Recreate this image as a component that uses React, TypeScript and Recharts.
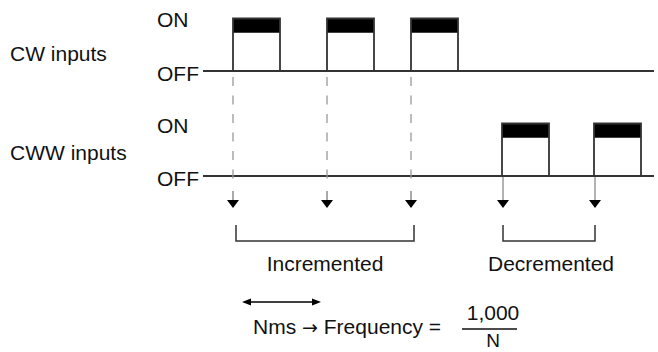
import React from "react";
import {
  ComposedChart,
  XAxis,
  YAxis,
  Line,
  ReferenceArea,
  ReferenceLine,
  ReferenceDot,
} from "recharts";

// time in ms along the trace, levels: CWW OFF=0 / ON=1, CW OFF=2 / ON=3
const cwPulses = [
  [30, 77],
  [124, 171],
  [208, 255],
];
const cwwPulses = [
  [299, 346],
  [391, 438],
];
const traceEnd = 451;
const cwBase = 2;
const cwwBase = 0;
const levelLabels = ["OFF", "ON"];
const channelLabels = ["CW inputs", "CWW inputs"];
const countLabels = ["Incremented", "Decremented"];
const nmsSpan = [39, 118];
const formula = ["Nms", "\u2192", "Frequency =", "1,000", "N"];

const FONT = "'Liberation Sans', Arial, Helvetica, sans-serif";
const INK = "#333";
// pixel row -> level units (52.5 px per level, CWW OFF on row 176)
const row = (py: number) => (176 - py) / 52.5;

function trace(pulses: number[][], base: number) {
  const pts = [{ t: 0, v: base }];
  pulses.forEach(([a, b]) => {
    pts.push({ t: a, v: base }, { t: a, v: base + 1 }, { t: b, v: base + 1 }, { t: b, v: base });
  });
  pts.push({ t: traceEnd, v: base });
  return pts;
}
const offLine = (base: number) => [
  { t: 0, v: base },
  { t: traceEnd, v: base },
];

const txt =
  (text: string, anchor: "start" | "middle" | "end" = "start", size = 21) =>
  (p: any) =>
    (
      <text x={p.cx} y={p.cy} textAnchor={anchor} fontSize={size} fill="#111" fontFamily={FONT}>
        {text}
      </text>
    );

const formulaText = (p: any) => (
  <text x={p.cx} y={p.cy} fontSize={21} fill="#111" fontFamily={FONT}>
    {formula[0]}{" "}
    <tspan fontFamily="'DejaVu Sans', sans-serif" fontSize={19}>
      {formula[1]}
    </tspan>{" "}
    {formula[2]}
  </text>
);

const downHead = (p: any) => (
  <polygon points={`${p.cx - 6},${p.cy - 8} ${p.cx + 6},${p.cy - 8} ${p.cx},${p.cy}`} fill="#000" />
);
const sideHead = (dir: number) => (p: any) =>
  (
    <polygon
      points={`${p.cx},${p.cy} ${p.cx - dir * 9},${p.cy - 3.5} ${p.cx - dir * 9},${p.cy + 3.5}`}
      fill="#000"
    />
  );

const lineProps = {
  dataKey: "v",
  type: "linear" as const,
  dot: false,
  activeDot: false,
  isAnimationActive: false,
};

export default function App() {
  const cwEvents = cwPulses.map((p) => p[0]);
  const cwwEvents = cwwPulses.map((p) => p[0]);
  const bracket = (ev: number[]) => [
    { t: ev[0], v: row(225) },
    { t: ev[0], v: row(241) },
    { t: ev[ev.length - 1], v: row(241) },
    { t: ev[ev.length - 1], v: row(225) },
  ];
  const mid = (ev: number[]) => (ev[0] + ev[ev.length - 1]) / 2;

  return (
    <div style={{ position: "absolute", left: 0, top: 0, width: 658, height: 352, background: "#fff" }}>
      <ComposedChart width={658} height={352} margin={{ top: 0, right: 0, bottom: 0, left: 0 }}>
        <XAxis type="number" dataKey="t" domain={[-203, 455]} hide allowDataOverflow />
        <YAxis type="number" domain={[row(352), row(0)]} hide allowDataOverflow />

        {/* black bands on top of each pulse */}
        {cwPulses.map(([a, b], i) => (
          <ReferenceArea key={"cb" + i} x1={a} x2={b} y1={cwBase + 1 - 0.27} y2={cwBase + 1} fill="#000" fillOpacity={1} stroke="none" ifOverflow="visible" />
        ))}
        {cwwPulses.map(([a, b], i) => (
          <ReferenceArea key={"wb" + i} x1={a} x2={b} y1={cwwBase + 1 - 0.27} y2={cwwBase + 1} fill="#000" fillOpacity={1} stroke="none" ifOverflow="visible" />
        ))}

        <Line {...lineProps} data={offLine(cwBase)} stroke={INK} strokeWidth={1.8} />
        <Line {...lineProps} data={offLine(cwwBase)} stroke={INK} strokeWidth={1.8} />
        <Line {...lineProps} data={trace(cwPulses, cwBase)} stroke={INK} strokeWidth={1.8} />
        <Line {...lineProps} data={trace(cwwPulses, cwwBase)} stroke={INK} strokeWidth={1.8} />

        {/* count events */}
        {cwEvents.map((t, i) => (
          <ReferenceLine key={"cd" + i} segment={[{ x: t, y: row(77) }, { x: t, y: row(181) }]} stroke="#999" strokeWidth={1.3} strokeDasharray="9 9.5" ifOverflow="visible" />
        ))}
        {cwEvents.map((t, i) => (
          <ReferenceLine key={"cs" + i} segment={[{ x: t, y: row(191) }, { x: t, y: row(200) }]} stroke="#555" strokeWidth={1} ifOverflow="visible" />
        ))}
        {cwwEvents.map((t, i) => (
          <ReferenceLine key={"ws" + i} segment={[{ x: t + 1, y: row(177) }, { x: t + 1, y: row(200) }]} stroke="#666" strokeWidth={1} ifOverflow="visible" />
        ))}
        {cwEvents.map((t, i) => (
          <ReferenceDot key={"ch" + i} x={t} y={row(208)} r={0} shape={downHead} ifOverflow="visible" />
        ))}
        {cwwEvents.map((t, i) => (
          <ReferenceDot key={"wh" + i} x={t + 1} y={row(208)} r={0} shape={downHead} ifOverflow="visible" />
        ))}

        {/* brackets */}
        <Line {...lineProps} data={bracket(cwEvents.map((t) => t + 3))} stroke={INK} strokeWidth={1.5} />
        <Line {...lineProps} data={bracket(cwwEvents.map((t) => t + 1))} stroke={INK} strokeWidth={1.5} />
        <ReferenceDot x={mid(cwEvents) + 3} y={row(271)} r={0} shape={txt(countLabels[0], "middle")} ifOverflow="visible" />
        <ReferenceDot x={mid(cwwEvents) + 3} y={row(271)} r={0} shape={txt(countLabels[1], "middle")} ifOverflow="visible" />

        {/* channel and level labels */}
        <ReferenceDot x={-193} y={row(61)} r={0} shape={txt(channelLabels[0])} ifOverflow="visible" />
        <ReferenceDot x={-193} y={row(160)} r={0} shape={txt(channelLabels[1])} ifOverflow="visible" />
        <ReferenceDot x={-46} y={row(27)} r={0} shape={txt(levelLabels[1])} ifOverflow="visible" />
        <ReferenceDot x={-46} y={row(81)} r={0} shape={txt(levelLabels[0])} ifOverflow="visible" />
        <ReferenceDot x={-46} y={row(133)} r={0} shape={txt(levelLabels[1])} ifOverflow="visible" />
        <ReferenceDot x={-46} y={row(186)} r={0} shape={txt(levelLabels[0])} ifOverflow="visible" />

        {/* N ms interval and formula */}
        <ReferenceLine segment={[{ x: nmsSpan[0] + 4, y: row(302) }, { x: nmsSpan[1] - 4, y: row(302) }]} stroke="#000" strokeWidth={1.5} ifOverflow="visible" />
        <ReferenceDot x={nmsSpan[0]} y={row(302)} r={0} shape={sideHead(-1)} ifOverflow="visible" />
        <ReferenceDot x={nmsSpan[1]} y={row(302)} r={0} shape={sideHead(1)} ifOverflow="visible" />
        <ReferenceDot x={50} y={row(334)} r={0} shape={formulaText} ifOverflow="visible" />
        <ReferenceDot x={290} y={row(320)} r={0} shape={txt(formula[3], "middle")} ifOverflow="visible" />
        <ReferenceLine segment={[{ x: 259, y: row(329) }, { x: 314, y: row(329) }]} stroke="#111" strokeWidth={1.5} ifOverflow="visible" />
        <ReferenceDot x={290} y={row(347)} r={0} shape={txt(formula[4], "middle", 19)} ifOverflow="visible" />
      </ComposedChart>
    </div>
  );
}
